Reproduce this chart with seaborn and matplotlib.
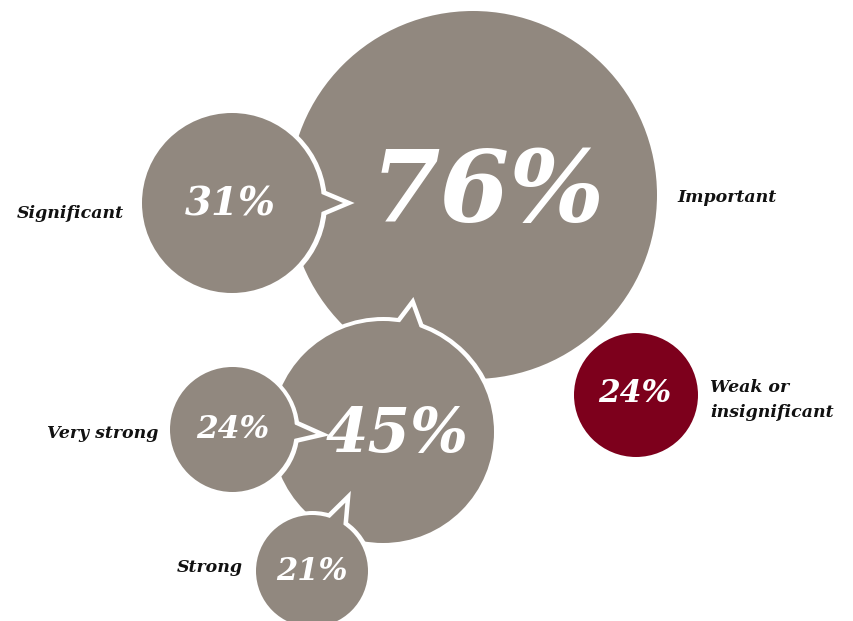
import numpy as np
import pandas as pd
import matplotlib
matplotlib.use("Agg")
import matplotlib.pyplot as plt
from matplotlib.patches import Polygon
import seaborn as sns

# ---- data -------------------------------------------------------------
names = ["Important", "Significant", "Core", "Very strong", "Strong", "Weak or\ninsignificant"]
values = [76, 31, 45, 24, 21, 24]
value_labels = [f"{v}%" for v in values]
show_name = [True, True, False, True, True, True]

# ---- layout (pixel space, y downward) ----------------------------------
cx = [473, 232, 383, 232.5, 312, 636]
cy = [195, 203, 432, 429.5, 571, 395]
radius = [184, 90, 111, 62.5, 56, 62]
fill_kind = ["grey", "grey", "grey", "grey", "grey", "red"]
# pointer: (angle of base start, angle of base end, tip angle, tip distance beyond edge)
pointers = [None, (-8, 8, 0, 21), (68, 83, 77, 18), (-11, 8, -3, 21), (52, 75, 64, 20), None]
text_xy = [(488, 194), (230, 205), (397, 435), (233, 430), (312, 572), (635, 393)]
text_size = [72, 28, 44, 22.5, 22, 22.5]
name_xy = [(677, 197), (124, 213), None, (158, 434), (243, 568), (710, 400)]
name_ha = ["left", "right", None, "right", "right", "left"]

colors = {"grey": "#91887f", "red": "#7d001c"}
GAP = 4.5  # white outline around each bubble, px

sns.set_theme(style="white")
plt.rcParams["font.family"] = ["DejaVu Serif"]

W, H, DPI = 854, 621, 100
fig = plt.figure(figsize=(W / DPI, H / DPI), dpi=DPI)
ax = fig.add_axes([0, 0, 1, 1])
ax.set_xlim(0, W)
ax.set_ylim(H, 0)
ax.set_axis_off()

px2pt = 72 / DPI


def pointer_poly(x0, y0, r, spec):
    a1, a2, at, ext = spec
    pts = []
    for a in (a1, at, a2):
        d = r + ext if a == at else r - 6
        th = np.deg2rad(a)
        pts.append((x0 + d * np.cos(th), y0 - d * np.sin(th)))
    return pts


z = 1
for i in range(len(values)):
    col = colors[fill_kind[i]]
    d_pt = 2 * radius[i] * px2pt
    df = pd.DataFrame({"x": [cx[i]], "y": [cy[i]]})
    # white halo behind the bubble (disk + pointer)
    sns.scatterplot(data=df, x="x", y="y", s=d_pt ** 2, color="white",
                    edgecolor="white", linewidth=2 * GAP * px2pt, ax=ax,
                    zorder=z, legend=False)
    if pointers[i] is not None:
        tri = pointer_poly(cx[i], cy[i], radius[i], pointers[i])
        ax.add_patch(Polygon(tri, closed=True, facecolor="white", edgecolor="white",
                             linewidth=2 * GAP * px2pt, joinstyle="miter", zorder=z))
    z += 1
    # bubble fill
    sns.scatterplot(data=df, x="x", y="y", s=d_pt ** 2, color=col,
                    edgecolor="none", linewidth=0, ax=ax, zorder=z, legend=False)
    if pointers[i] is not None:
        ax.add_patch(Polygon(tri, closed=True, facecolor=col, edgecolor="none",
                             zorder=z))
    z += 1

for i in range(len(values)):
    tx, ty = text_xy[i]
    ax.text(tx, ty, value_labels[i], ha="center", va="center", color="white",
            fontsize=text_size[i], fontweight="bold", fontstyle="italic", zorder=50)
    if show_name[i]:
        nx, ny = name_xy[i]
        ax.text(nx, ny, names[i], ha=name_ha[i], va="center", color="#111111",
                fontsize=12.5, fontweight="bold", fontstyle="italic",
                linespacing=1.65, zorder=50)

fig.savefig("out.png", dpi=DPI)
